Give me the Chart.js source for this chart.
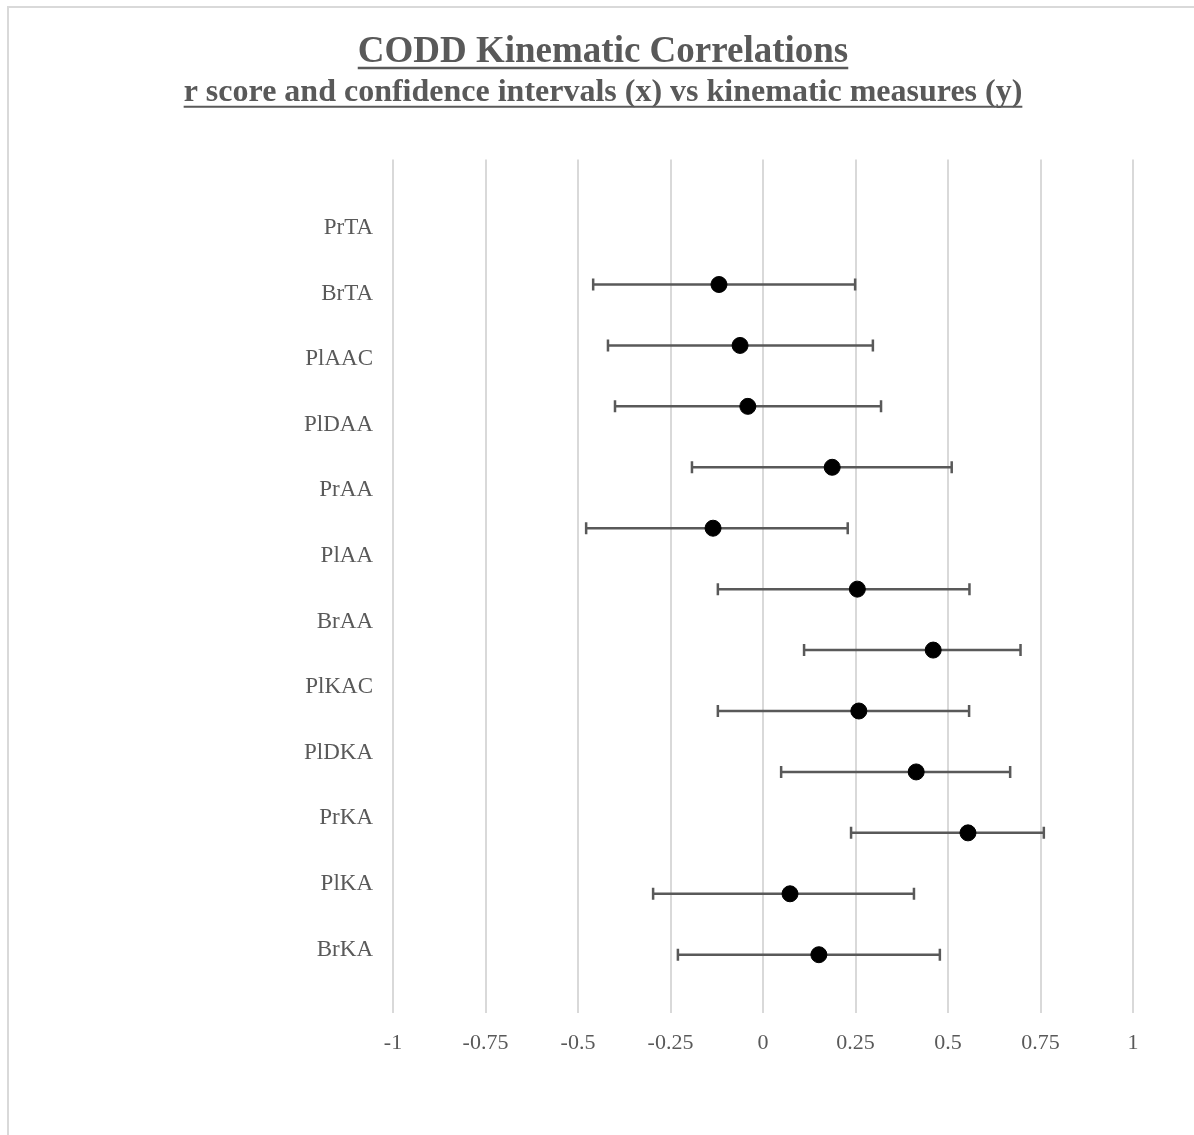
<!DOCTYPE html>
<html lang="en">
<head>
<meta charset="UTF-8">
<title>CODD Kinematic Correlations</title>
<script src="https://cdn.jsdelivr.net/npm/chart.js@4.4.1/dist/chart.umd.min.js"></script>
<style>
  body { margin: 0; background: #fff; overflow: hidden; }
  #frame { position: absolute; left: 7px; top: 6px; width: 1300px; height: 1300px; border: 2px solid #d9d9d9; }
  #wrap { position: absolute; left: 0; top: 0; width: 1194px; height: 1135px; }
</style>
</head>
<body>
<div id="frame"></div>
<div id="wrap"><canvas id="codd"></canvas></div>
<script>
// kinematic measures, top to bottom
const measures = ['PrTA', 'BrTA', 'PlAAC', 'PlDAA', 'PrAA', 'PlAA', 'BrAA', 'PlKAC', 'PlDKA', 'PrKA', 'PlKA', 'BrKA'];
// r score and 95% confidence limits
const rScore = [-0.119, -0.062, -0.041, 0.187, -0.135, 0.255, 0.460, 0.259, 0.414, 0.554, 0.073, 0.151];
const ciLow  = [-0.459, -0.419, -0.400, -0.192, -0.478, -0.122, 0.111, -0.122, 0.049, 0.238, -0.297, -0.230];
const ciHigh = [0.249, 0.297, 0.319, 0.510, 0.229, 0.558, 0.696, 0.557, 0.668, 0.759, 0.408, 0.478];
const xTicks = [-1, -0.75, -0.5, -0.25, 0, 0.25, 0.5, 0.75, 1];

const grey = '#595959';
const n = measures.length;

const errorBars = {
  id: 'errorBars',
  beforeDatasetsDraw(chart) {
    const { ctx, scales: { x, y } } = chart;
    ctx.save();
    ctx.strokeStyle = grey;
    ctx.lineWidth = 2.5;
    measures.forEach((m, i) => {
      const py = y.getPixelForValue(n - i);
      const x0 = x.getPixelForValue(ciLow[i]);
      const x1 = x.getPixelForValue(ciHigh[i]);
      ctx.beginPath();
      ctx.moveTo(x0, py); ctx.lineTo(x1, py);
      ctx.moveTo(x0, py - 6); ctx.lineTo(x0, py + 6);
      ctx.moveTo(x1, py - 6); ctx.lineTo(x1, py + 6);
      ctx.stroke();
    });
    ctx.restore();
  }
};

const underline = {
  id: 'underline',
  afterDraw(chart) {
    const ctx = chart.ctx;
    chart.boxes.filter(b => b.position === 'top' && b.options && b.options.text).forEach(b => {
      const f = Chart.helpers.toFont(b.options.font);
      const pad = Chart.helpers.toPadding(b.options.padding);
      ctx.save();
      ctx.font = f.string;
      const w = ctx.measureText(b.options.text).width;
      const cx = (b.left + b.right) / 2;
      const uy = b.top + pad.top + f.lineHeight / 2 + 0.3375 * f.size + 0.09 * f.size;
      ctx.strokeStyle = grey;
      ctx.lineWidth = f.size > 34 ? 2.5 : 2;
      ctx.beginPath();
      ctx.moveTo(cx - w / 2, uy);
      ctx.lineTo(cx + w / 2, uy);
      ctx.stroke();
      ctx.restore();
    });
  }
};

new Chart(document.getElementById('codd'), {
  type: 'scatter',
  data: {
    datasets: [{
      label: 'r score',
      data: measures.map((m, i) => ({ x: rScore[i], y: n - i })),
      backgroundColor: '#000',
      borderColor: '#000',
      pointRadius: 8,
      pointHoverRadius: 8
    }]
  },
  options: {
    responsive: true,
    maintainAspectRatio: false,
    animation: false,
    layout: { padding: { left: 73, right: 61, top: 30, bottom: 62 } },
    plugins: {
      legend: { display: false },
      tooltip: { enabled: false },
      title: {
        display: true,
        text: 'CODD Kinematic Correlations',
        color: grey,
        font: { family: 'Liberation Serif', size: 37, weight: 'bold', lineHeight: 1.2 },
        padding: { top: 0, bottom: 1 }
      },
      subtitle: {
        display: true,
        text: 'r score and confidence intervals (x) vs kinematic measures (y)',
        color: grey,
        font: { family: 'Liberation Serif', size: 32, weight: 'bold', lineHeight: 1.1 },
        padding: { top: 0, bottom: 49 }
      }
    },
    scales: {
      x: {
        type: 'linear',
        min: -1,
        max: 1,
        afterBuildTicks: s => { s.ticks = xTicks.map(v => ({ value: v })); },
        ticks: {
          callback: v => String(v),
          color: grey,
          padding: 17,
          font: { family: 'Liberation Serif', size: 22 }
        },
        grid: { color: '#d9d9d9', lineWidth: 2, drawTicks: false },
        border: { display: false }
      },
      y: {
        type: 'linear',
        display: false,
        min: 0.05,
        max: 14.05
      },
      yl: {
        type: 'linear',
        position: 'left',
        min: 0.04,
        max: 13.04,
        afterBuildTicks: s => { s.ticks = measures.map((m, i) => ({ value: n - i })); },
        afterFit: s => { s.width = 320; },
        ticks: {
          autoSkip: false,
          callback: v => measures[n - v],
          color: grey,
          padding: 20,
          font: { family: 'Liberation Serif', size: 23 }
        },
        grid: { display: false, drawTicks: false },
        border: { display: false }
      }
    }
  },
  plugins: [errorBars, underline]
});
</script>
</body>
</html>
